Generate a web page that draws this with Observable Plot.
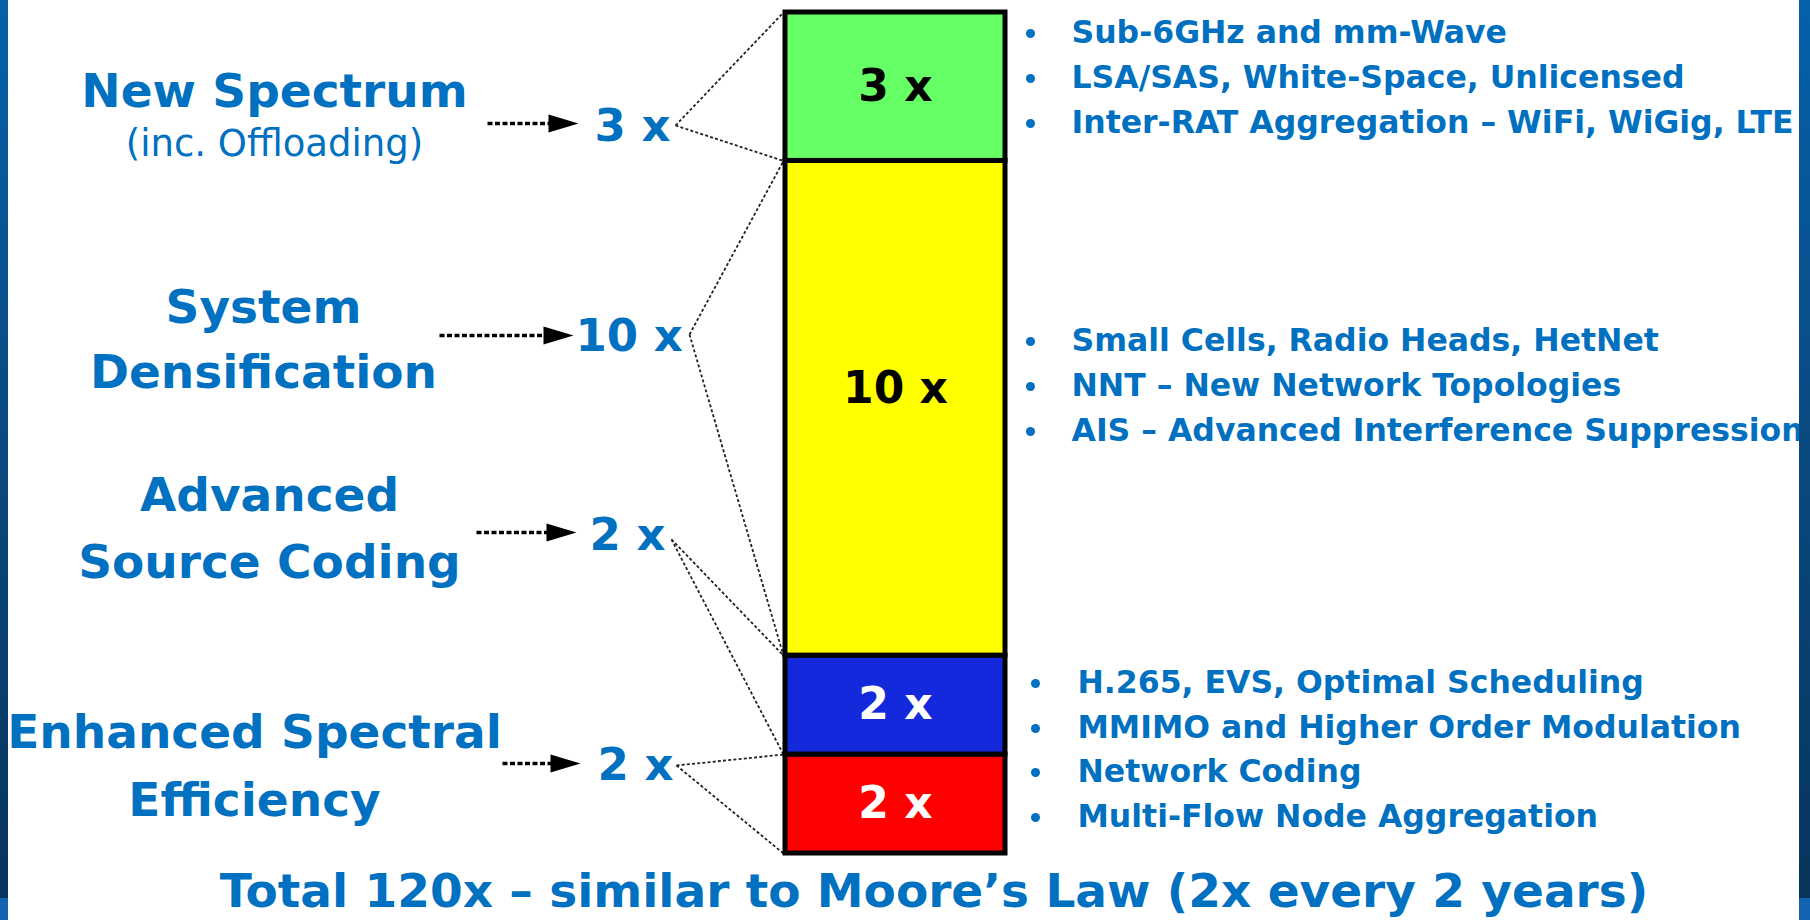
<!DOCTYPE html>
<html>
<head>
<meta charset="utf-8">
<script src="https://cdn.jsdelivr.net/npm/d3@7"></script>
<script src="https://cdn.jsdelivr.net/npm/@observablehq/plot@0.6"></script>
<style>
  html, body { margin: 0; padding: 0; background: #ffffff; width: 1810px; height: 920px; overflow: hidden; position: relative; }
  #chart svg { display: block; background: transparent; }
  .edge { position: absolute; top: 0; height: 920px; z-index: 5;
          background: linear-gradient(to bottom, #0561aa 0%, #0a4d86 40%, #07345c 97.6%, #1363b3 97.6%, #1363b3 100%); }
  #caption { position: absolute; left: 934px; top: 867px; transform: translateX(-50%);
             white-space: nowrap; font: bold 47px "DejaVu Sans", sans-serif; line-height: 1; color: #0070c0; }
</style>
</head>
<body>
<div id="chart"></div>
<div id="caption"></div>
<div class="edge" style="left:0;width:8px"></div>
<div class="edge" style="left:1799px;width:11px"></div>
<script>
// Capacity gain drivers, listed top to bottom
const drivers = ["New Spectrum", "System Densification", "Advanced Source Coding", "Enhanced Spectral Efficiency"];
const gains = [3, 10, 2, 2];
const gainLabels = ["3 x", "10 x", "2 x", "2 x"];
const titleLines = [["New Spectrum"], ["System", "Densification"], ["Advanced", "Source Coding"], ["Enhanced Spectral", "Efficiency"]];
const subtitle = "(inc. Offloading)";
const notes = [
  ["Sub-6GHz and mm-Wave", "LSA/SAS, White-Space, Unlicensed", "Inter-RAT Aggregation – WiFi, WiGig, LTE"],
  ["Small Cells, Radio Heads, HetNet", "NNT – New Network Topologies", "AIS – Advanced Interference Suppression"],
  ["H.265, EVS, Optimal Scheduling", "MMIMO and Higher Order Modulation"],
  ["Network Coding", "Multi-Flow Node Aggregation"]
];
const captionText = "Total 120x – similar to Moore’s Law (2x every 2 years)";

// Styling
const segmentFill = ["#66ff66", "#ffff00", "#1428dc", "#ff0000"];
const segmentInk = ["#000000", "#000000", "#ffffff", "#ffffff"];
const blue = "#0070c0";
const font = "DejaVu Sans";

// Layout (page pixels)
const W = 1810, H = 866;
const barLeft = 785, barRight = 1005, barTop = 12, barBottom = 853;
const labelShift = [0, -19, 0, 0];
const titleX = [274, 263, 269, 254];
const titleBase = [[106], [322, 387], [510, 577], [747, 815]];
const subtitleBase = 155;
const arrowFrom = [487, 439, 476, 502];
const arrowTip = [578, 573, 576, 580];
const arrowY = [123, 335, 532, 763];
const multX = [594, 575, 589, 597];
const multBase = [140, 350, 549, 779];
const apex = [[675, 125], [689, 334], [671, 539], [676, 765]];
const noteX = [1071, 1071, 1077, 1077];
const bulletX = [1030, 1030, 1035, 1035];
const noteBase = [[42, 87, 132], [350, 395, 440], [692, 737], [781, 826]];

const total = d3.sum(gains);
const yPx = d3.scaleLinear([0, total], [barBottom, barTop]);
const Y = px => yPx.invert(px);

// Stack segments from the bottom (last driver) upward
let acc = 0;
const segments = d3.range(drivers.length).reverse().map(i => {
  const y1 = acc; acc += gains[i];
  return {i, driver: drivers[i], gain: gains[i], label: gainLabels[i], y1, y2: acc};
});
const segOf = i => segments.find(s => s.i === i);

const titles = titleLines.flatMap((lines, i) => lines.map((t, k) => ({text: t, x: titleX[i], y: Y(titleBase[i][k])})));
const arrows = drivers.map((d, i) => ({x1: arrowFrom[i], x2: arrowTip[i] - 28, y: Y(arrowY[i]), tip: arrowTip[i]}));
const mults = drivers.map((d, i) => ({text: gainLabels[i], x: multX[i], y: Y(multBase[i])}));
const fans = drivers.flatMap((d, i) => {
  const s = segOf(i);
  return [s.y2, s.y1].map(v => ({x1: apex[i][0], y1: Y(apex[i][1]), x2: barLeft - 2, y2: v}));
});
const noteRows = notes.flatMap((list, g) => list.map((t, k) => ({text: t, x: noteX[g], bx: bulletX[g], y: Y(noteBase[g][k]), by: Y(noteBase[g][k] - 9)})));

// Filled arrowhead pointing right
const arrowHead = {
  draw(context, size) {
    const r = Math.sqrt(size / Math.PI);
    context.moveTo(r, 0);
    context.lineTo(-r, -0.6 * r);
    context.lineTo(-r, 0.6 * r);
    context.closePath();
  }
};

const chart = Plot.plot({
  width: W, height: H,
  margin: 0,
  style: {background: "transparent", overflow: "visible"},
  x: {domain: [0, W], range: [0, W], axis: null},
  y: {domain: [0, total], range: [barBottom, barTop], axis: null},
  color: {type: "identity"},
  marks: [
    // dotted fan lines from each multiplier to its segment
    Plot.link(fans, {x1: "x1", y1: "y1", x2: "x2", y2: "y2", stroke: "#222", strokeWidth: 1.8, strokeDasharray: "3,2.2"}),
    // stacked bar
    Plot.rect(segments, {x1: () => barLeft, x2: () => barRight, y1: "y1", y2: "y2",
      fill: d => segmentFill[d.i], stroke: "#000", strokeWidth: 5}),
    Plot.text(segments, {x: () => (barLeft + barRight) / 2, y: d => (d.y1 + d.y2) / 2 - labelShift[d.i] * total / (barBottom - barTop),
      text: "label", fill: d => segmentInk[d.i], fontFamily: font, fontWeight: "bold", fontSize: 44, lineAnchor: "middle"}),
    // driver names
    Plot.text(titles, {x: "x", y: "y", text: "text", fill: blue, fontFamily: font, fontWeight: "bold", fontSize: 47, textAnchor: "middle", lineAnchor: "bottom"}),
    Plot.text([subtitle], {x: () => titleX[0], y: () => Y(subtitleBase), text: d => d, fill: blue, fontFamily: font, fontSize: 37, textAnchor: "middle", lineAnchor: "bottom"}),
    // dashed arrows to the multipliers
    Plot.link(arrows, {x1: "x1", x2: "x2", y1: "y", y2: "y", stroke: "#000", strokeWidth: 3.5, strokeDasharray: "5,2.5"}),
    Plot.dot(arrows, {x: d => d.tip - 15, y: "y", r: 15, symbol: arrowHead, fill: "#000", stroke: null}),
    Plot.text(mults, {x: "x", y: "y", text: "text", fill: blue, fontFamily: font, fontWeight: "bold", fontSize: 45, textAnchor: "start", lineAnchor: "bottom"}),
    // bullet notes
    Plot.dot(noteRows, {x: "bx", y: "by", r: 4.5, fill: blue, stroke: null}),
    Plot.text(noteRows, {x: "x", y: "y", text: "text", fill: blue, fontFamily: font, fontWeight: "bold", fontSize: 31.5, textAnchor: "start", lineAnchor: "bottom"})
  ]
});

document.getElementById("chart").append(chart);
document.getElementById("caption").textContent = captionText;
</script>
</body>
</html>
